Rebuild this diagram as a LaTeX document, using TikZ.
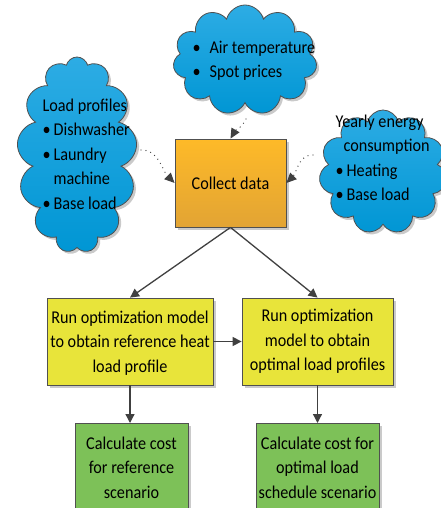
\documentclass[tikz,border=0pt]{standalone}
\usepackage{fontspec}
\setmainfont{Carlito}[FakeStretch=0.9]
\usetikzlibrary{shapes.symbols,arrows.meta,shadows}
\definecolor{cloudtop}{RGB}{45,172,228}
\definecolor{cloudbot}{RGB}{0,150,212}
\definecolor{orangetop}{RGB}{254,186,40}
\definecolor{orangebot}{RGB}{226,164,52}
\definecolor{yellowfill}{RGB}{232,228,58}
\definecolor{greenfill}{RGB}{125,193,88}
\definecolor{edgegray}{RGB}{80,80,80}
\definecolor{arrowgray}{RGB}{64,64,64}
\begin{document}
\begin{tikzpicture}[x=1pt,y=-1pt,
  txt/.style={font=\fontsize{18}{24.5}\selectfont},
  shad/.style={drop shadow={shadow xshift=2.5pt,shadow yshift=-2.5pt,opacity=0.35,fill=black!60}},
  cloudnode/.style={cloud, cloud puffs=11, cloud puff arc=150, cloud ignores aspect, draw=edgegray, line width=0.8pt,
     top color=cloudtop, bottom color=cloudbot, shad, inner sep=0pt},
  boxnode/.style={rectangle, draw=edgegray, line width=0.8pt, shad, align=center, txt, inner sep=2pt},
  flow/.style={draw=arrowgray, line width=1.3pt, -{Triangle[length=9pt,width=9pt]}},
  dotflow/.style={draw=arrowgray, line width=1.3pt, line cap=round, dash pattern=on 0pt off 5pt,
     -{Triangle[length=10pt,width=9pt]}}
]
\useasboundingbox (0,0) rectangle (441,508);

% clouds
\node[cloudnode, minimum width=144pt, minimum height=110pt] (ctop) at (245,60) {};
\node[cloudnode, minimum width=120pt, minimum height=196pt, cloud puffs=13] (cleft) at (77,155) {};
\node[cloudnode, minimum width=128pt, minimum height=124pt] (cright) at (383,172) {};

\node[txt, align=left, anchor=west] (ttop) at (189,61) {\textbullet\enspace Air temperature\\\textbullet\enspace Spot prices};
\node[txt, align=left, anchor=west] (tleft) at (39,154) {Load profiles\\\textbullet\,Dishwasher\\\textbullet\,Laundry\\\hphantom{\textbullet\,}machine\\\textbullet\,Base load};
\node[txt, align=left, anchor=west] (tright) at (332,158) {Yearly energy\\\hphantom{\textbullet}consumption\\\textbullet\,Heating\\\textbullet\,Base load};

% boxes
\node[boxnode, top color=orangetop, bottom color=orangebot, minimum width=111pt, minimum height=88pt] (collect) at (230.5,183) {Collect data};
\node[boxnode, fill=yellowfill, minimum width=166pt, minimum height=87pt, text depth=0pt] (opt1) at (130,341.5) {Run optimization model\\to obtain reference heat\\load profile};
\node[boxnode, fill=yellowfill, minimum width=151pt, minimum height=87pt] (opt2) at (317.5,341.5) {Run optimization\\model to obtain\\optimal load profiles};
\node[boxnode, fill=greenfill, minimum width=113pt, minimum height=88pt, anchor=north] (cost1) at (131.5,423) {Calculate cost\\for reference\\scenario};
\node[boxnode, fill=greenfill, minimum width=123pt, minimum height=88pt, anchor=north] (cost2) at (317.5,423) {Calculate cost for\\optimal load\\schedule scenario};

% connectors
\draw[flow] (collect.south) -- (opt1.north);
\draw[flow] (collect.south) -- (opt2.north);
\draw[flow] (opt1.east) -- (opt2.west);
\draw[flow] (opt1.south) -- (opt1.south |- cost1.north);
\draw[flow] (opt2.south) -- (opt2.south |- cost2.north);

% dotted arrows
\coordinate (dl) at (141,150);
\coordinate (dt) at (246,119);
\coordinate (dr) at (313,155);
\draw[dotflow] (dl) to[out=0,in=135] (collect.west);
\draw[dotflow] (dt) to[out=-115,in=60] (collect.north);
\draw[dotflow] (dr) to[out=180,in=45] (collect.east);
\end{tikzpicture}
\end{document}
